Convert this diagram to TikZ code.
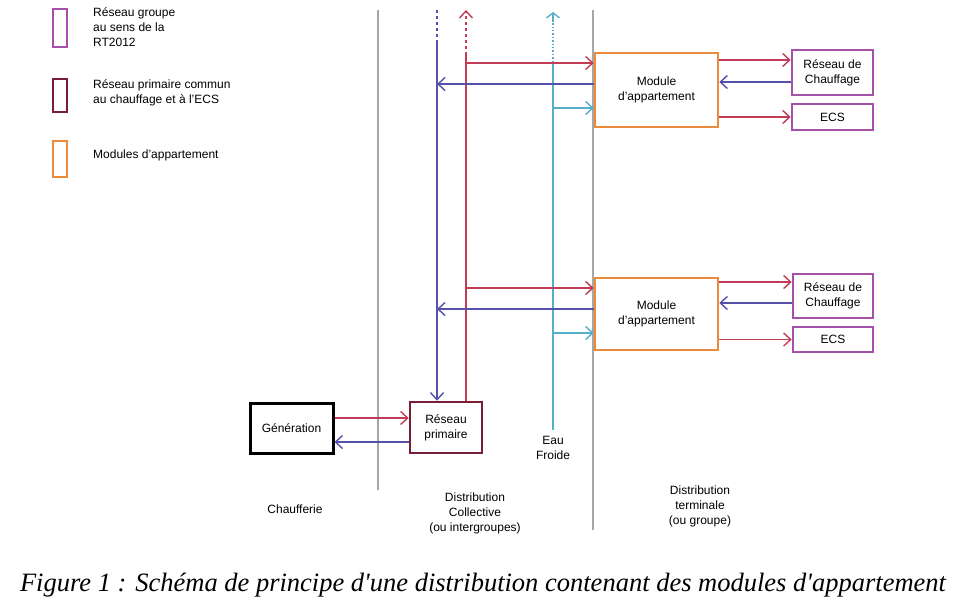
\documentclass[tikz,border=0pt]{standalone}
\usepackage{fontspec}
\setmainfont{Liberation Sans}
\newfontfamily\captionfont{Liberation Serif}
\usetikzlibrary{arrows.meta}
\definecolor{hotred}{RGB}{195,60,85}
\definecolor{coldblue}{RGB}{85,80,170}
\definecolor{waterblue}{RGB}{85,175,200}
\definecolor{modorange}{RGB}{235,140,60}
\definecolor{grpurple}{RGB}{165,80,170}
\definecolor{primred}{RGB}{120,30,55}
\tikzset{
  lbl/.style={font=\fontsize{12}{15}\selectfont, align=center, inner sep=1pt},
  box/.style={draw, line width=2.6pt, lbl, inner sep=0pt},
  flow/.style={-{Straight Barb[length=7pt,width=13pt]}, line width=1.4pt},
  divider/.style={draw=gray!70, line width=1.2pt}
}
\begin{document}
\begin{tikzpicture}[x=1pt,y=-1pt]
    \useasboundingbox (0,0) rectangle (963,607);

    % Legend
    \draw[grpurple, line width=2.6pt] (53,9) rectangle (67,47);
    \draw[primred, line width=2.6pt] (53,79) rectangle (67,112);
    \draw[modorange, line width=2.6pt] (53,141) rectangle (67,177);
    \node[lbl, align=left, anchor=north west] (lg1) at (92,6) {R\'eseau groupe\\au sens de la\\RT2012};
    \node[lbl, align=left, anchor=north west] (lg2) at (92,78) {R\'eseau primaire commun\\au chauffage et \`a l'ECS};
    \node[lbl, align=left, anchor=west] (lg3) at (92,155) {Modules d'appartement};

    % Zone dividers
    \draw[divider] (378,10) -- (378,490);
    \draw[divider] (593,10) -- (593,530);

    % Boxes
    \node[box, line width=3pt, minimum width=83, minimum height=50] (gen) at (291.5,428) {G\'en\'eration};
    \node[box, draw=primred, minimum width=72, minimum height=51] (prim) at (446,427.5) {R\'eseau\\primaire};
    \node[box, draw=modorange, minimum width=123, minimum height=74] (mod1) at (656.5,90) {Module\\d'appartement};
    \node[box, draw=modorange, minimum width=123, minimum height=72] (mod2) at (656.5,314) {Module\\d'appartement};
    \node[box, draw=grpurple, minimum width=81, minimum height=45] (ch1) at (832.5,72.5) {R\'eseau de\\Chauffage};
    \node[box, draw=grpurple, minimum width=81, minimum height=26] (ecs1) at (832.5,117) {ECS};
    \node[box, draw=grpurple, minimum width=80, minimum height=44] (ch2) at (833,296) {R\'eseau de\\Chauffage};
    \node[box, draw=grpurple, minimum width=80, minimum height=25] (ecs2) at (833,339.5) {ECS};

    % Risers
    \coordinate (rtop) at (466,10);
    \coordinate (btop) at (437,10);
    \coordinate (wtop) at (553,12);
    \coordinate (wbot) at (553,430);
    \draw[coldblue, line width=1.4pt, dashed] (btop) -- (437,40);
    \draw[coldblue, flow] (437,40) -- (prim.north -| 437,0);
    \draw[hotred, line width=1.4pt] (prim.north -| 466,0) -- (466,55);
    \draw[hotred, flow, dashed] (466,55) -- (rtop);
    \draw[waterblue, line width=1.4pt, dotted] (553,62) -- (553,20);
    \draw[waterblue, -{Straight Barb[length=5pt,width=13pt]}, line width=1.4pt] (553,22) -- (wtop);
    \draw[waterblue, line width=1.4pt] (553,62) -- (wbot);
    \node[lbl] (eau) at (553,448) {Eau\\Froide};

    % Branches to the modules
    \foreach \m/\ch/\ecs/\dy in {mod1/ch1/ecs1/0, mod2/ch2/ecs2/1} {
      \draw[hotred, flow] (466,63+225*\dy) -- (\m.west |- 0,63+225*\dy);
      \draw[coldblue, flow] (\m.west |- 0,84+225*\dy) -- (437,84+225*\dy);
      \draw[waterblue, flow] (553,108+225*\dy) -- (\m.west |- 0,108+225*\dy);
      \draw[hotred, flow] (\m.east |- 0,60+222*\dy) -- (\ch.west |- 0,60+222*\dy);
      \draw[coldblue, flow] (\ch.west |- 0,82+221*\dy) -- (\m.east |- 0,82+221*\dy);
      \draw[hotred, flow] (\m.east |- \ecs) -- (\ecs.west);
    }

    % Generation loop
    \draw[hotred, flow] (gen.east |- 0,418) -- (prim.west |- 0,418);
    \draw[coldblue, flow] (prim.west |- 0,442) -- (gen.east |- 0,442);

    % Zone labels
    \node[lbl] (zch) at (295,509) {Chaufferie};
    \node[lbl] (zcol) at (475,513) {Distribution\\Collective\\(ou intergroupes)};
    \node[lbl] (zterm) at (700,506) {Distribution\\terminale\\(ou groupe)};

    % Caption
    \node[font=\captionfont\itshape\fontsize{26.5}{30}\selectfont] (cap) at (483,585)
      {Figure 1 : Sch\'ema de principe d'une distribution contenant des modules d'appartement};
\end{tikzpicture}
\end{document}
